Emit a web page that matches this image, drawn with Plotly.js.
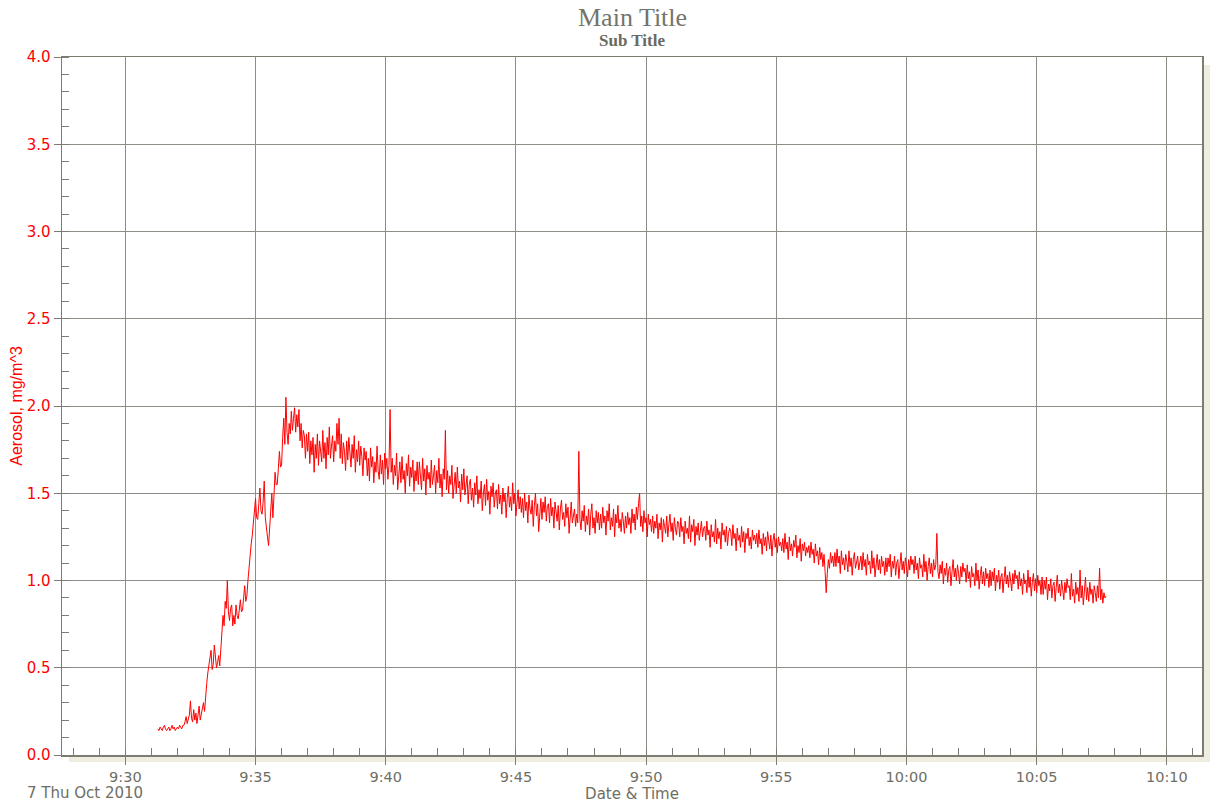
<!DOCTYPE html>
<html>
<head>
<meta charset="utf-8">
<script src="https://cdn.plot.ly/plotly-3.0.1.min.js"></script>
<style>
html,body{margin:0;padding:0;background:#fff;}
#chart{width:1211px;height:808px;}
</style>
</head>
<body>
<div id="chart"></div>
<script>
// ---- data ----
var startTime = '2010-10-07 09:31:15';
var stepSeconds = 2.5;
// aerosol readings (mg/m^3), one row = one minute of 2.5-second samples
var aerosol = [
  0.15,0.14,0.16,0.15,0.14,0.16,0.17,0.15,0.14,0.15,0.16,0.14,0.15,0.17,0.15,0.16,0.14,0.15,0.16,0.15,0.17,0.16,0.15,0.17,
  0.17,0.19,0.22,0.18,0.20,0.23,0.31,0.21,0.19,0.26,0.20,0.24,0.18,0.22,0.28,0.20,0.23,0.26,0.30,0.25,0.36,0.41,0.47,0.52,
  0.55,0.60,0.49,0.52,0.63,0.55,0.50,0.53,0.57,0.51,0.62,0.69,0.80,0.74,0.88,0.84,1.00,0.82,0.77,0.84,0.86,0.74,0.80,0.75,
  0.86,0.80,0.78,0.83,0.89,0.82,0.83,0.90,0.97,0.88,0.91,1.00,1.08,1.12,1.21,1.26,1.32,1.42,1.47,1.36,1.35,1.44,1.53,1.40,
  1.38,1.45,1.57,1.36,1.28,1.25,1.20,1.30,1.45,1.50,1.36,1.52,1.62,1.55,1.55,1.64,1.74,1.65,1.66,1.82,1.93,1.78,2.05,1.85,
  1.78,1.90,1.84,1.97,1.86,1.93,1.99,1.85,1.95,1.88,1.98,1.80,1.90,1.76,1.86,1.83,1.70,1.84,1.74,1.85,1.67,1.80,1.72,1.82,
  1.62,1.78,1.70,1.84,1.66,1.80,1.74,1.68,1.86,1.70,1.79,1.64,1.82,1.72,1.88,1.70,1.77,1.83,1.68,1.80,1.74,1.90,1.78,1.93,
  1.70,1.84,1.67,1.79,1.74,1.63,1.80,1.69,1.82,1.72,1.65,1.78,1.70,1.83,1.62,1.75,1.68,1.80,1.66,1.77,1.71,1.60,1.76,1.69,
  1.74,1.60,1.70,1.57,1.76,1.65,1.71,1.56,1.68,1.62,1.77,1.63,1.58,1.72,1.61,1.69,1.55,1.73,1.64,1.70,1.58,1.66,1.98,1.62,
  1.70,1.55,1.66,1.60,1.73,1.52,1.64,1.68,1.56,1.71,1.58,1.63,1.50,1.67,1.60,1.72,1.54,1.65,1.59,1.69,1.51,1.63,1.57,1.68,
  1.55,1.68,1.60,1.52,1.70,1.57,1.64,1.49,1.66,1.58,1.62,1.53,1.69,1.55,1.60,1.66,1.50,1.63,1.56,1.70,1.53,1.61,1.48,1.64,
  1.58,1.86,1.52,1.63,1.50,1.60,1.55,1.66,1.47,1.58,1.62,1.50,1.65,1.53,1.57,1.45,1.61,1.52,1.64,1.49,1.56,1.60,1.44,1.55,
  1.58,1.46,1.53,1.42,1.56,1.49,1.60,1.44,1.52,1.47,1.57,1.40,1.50,1.55,1.43,1.58,1.46,1.51,1.38,1.54,1.48,1.56,1.42,1.50,
  1.52,1.41,1.55,1.44,1.49,1.38,1.53,1.45,1.50,1.36,1.47,1.54,1.42,1.48,1.40,1.56,1.44,1.50,1.37,1.46,1.52,1.41,1.48,1.39,
  1.47,1.36,1.50,1.40,1.45,1.33,1.49,1.41,1.38,1.46,1.31,1.43,1.50,1.37,1.44,1.28,1.42,1.47,1.35,1.45,1.39,1.48,1.34,1.43,
  1.44,1.33,1.47,1.37,1.42,1.30,1.45,1.38,1.34,1.43,1.29,1.41,1.46,1.35,1.39,1.31,1.44,1.36,1.42,1.27,1.40,1.45,1.33,1.38,
  1.41,1.31,1.38,1.33,1.74,1.35,1.29,1.40,1.34,1.43,1.28,1.37,1.32,1.41,1.26,1.38,1.44,1.30,1.36,1.27,1.40,1.33,1.39,1.29,
  1.38,1.30,1.42,1.33,1.37,1.26,1.40,1.34,1.44,1.29,1.36,1.31,1.41,1.25,1.38,1.33,1.43,1.30,1.35,1.28,1.39,1.34,1.27,1.37,
  1.30,1.39,1.32,1.36,1.27,1.41,1.33,1.38,1.29,1.42,1.35,1.44,1.50,1.31,1.37,1.28,1.40,1.33,1.36,1.25,1.38,1.32,1.35,1.28,
  1.37,1.27,1.34,1.30,1.38,1.24,1.33,1.29,1.36,1.22,1.35,1.31,1.27,1.37,1.25,1.32,1.38,1.28,1.33,1.23,1.36,1.30,1.26,1.34,
  1.33,1.25,1.36,1.28,1.31,1.21,1.34,1.27,1.30,1.24,1.37,1.22,1.32,1.28,1.35,1.20,1.31,1.26,1.33,1.23,1.29,1.34,1.25,1.30,
  1.31,1.23,1.34,1.26,1.29,1.19,1.32,1.25,1.28,1.22,1.35,1.21,1.30,1.24,1.28,1.18,1.33,1.26,1.29,1.22,1.31,1.20,1.27,1.30,
  1.28,1.20,1.32,1.24,1.27,1.17,1.30,1.23,1.26,1.19,1.31,1.22,1.28,1.16,1.27,1.24,1.30,1.20,1.25,1.18,1.29,1.23,1.26,1.21,
  1.27,1.19,1.29,1.21,1.24,1.15,1.27,1.20,1.25,1.17,1.28,1.22,1.18,1.26,1.14,1.23,1.27,1.19,1.24,1.16,1.25,1.20,1.22,1.17,
  1.24,1.16,1.27,1.18,1.22,1.12,1.25,1.17,1.21,1.14,1.23,1.19,1.26,1.13,1.20,1.16,1.24,1.11,1.21,1.17,1.22,1.14,1.19,1.16,
  1.20,1.13,1.22,1.15,1.18,1.10,1.21,1.14,1.17,1.09,1.19,1.12,1.16,1.08,1.15,1.05,0.93,1.04,1.12,1.07,1.16,1.10,1.14,1.08,
  1.16,1.08,1.18,1.10,1.14,1.04,1.17,1.09,1.13,1.06,1.15,1.11,1.05,1.17,1.08,1.13,1.03,1.12,1.16,1.07,1.11,1.14,1.06,1.12,
  1.14,1.06,1.16,1.08,1.12,1.03,1.15,1.09,1.11,1.04,1.17,1.07,1.13,1.02,1.10,1.15,1.06,1.12,1.04,1.14,1.08,1.11,1.03,1.13,
  1.05,1.13,1.08,1.15,1.02,1.11,1.07,1.14,1.03,1.10,1.12,1.01,1.09,1.16,1.06,1.11,1.04,1.13,1.08,1.02,1.12,1.06,1.14,1.09,
  1.12,1.04,1.14,1.06,1.10,1.01,1.13,1.07,1.09,1.02,1.15,1.05,1.11,1.00,1.08,1.13,1.04,1.10,1.02,1.12,1.06,1.09,1.27,1.05,
  1.01,1.09,1.04,1.11,0.98,1.07,1.03,1.10,0.99,1.06,1.08,0.97,1.05,1.12,1.02,1.07,1.00,1.09,1.04,0.98,1.08,1.02,1.10,1.05,
  1.07,0.99,1.09,1.01,1.05,0.96,1.08,1.02,1.04,0.97,1.10,1.00,1.06,0.95,1.03,1.08,0.98,1.05,0.97,1.07,1.01,1.04,0.96,1.06,
  0.97,1.05,1.00,1.07,0.94,1.03,0.99,1.06,0.95,1.02,1.04,0.93,1.01,1.08,0.98,1.03,0.96,1.05,1.00,0.94,1.04,0.98,1.06,1.01,
  1.03,0.95,1.05,0.97,1.01,0.92,1.04,0.98,1.00,0.93,1.06,0.96,1.02,0.91,0.99,1.04,0.94,1.01,0.93,1.03,0.97,1.00,0.92,1.02,
  0.92,1.00,0.95,1.02,0.89,0.98,0.94,1.01,0.90,0.97,0.99,0.88,0.96,1.03,0.93,0.98,0.91,1.00,0.95,0.89,0.99,0.93,1.01,0.96,
  0.97,0.89,1.04,0.91,0.95,0.87,0.99,0.92,0.96,0.88,1.06,0.90,0.97,0.86,0.94,1.02,0.89,0.96,0.88,0.99,0.92,0.95,0.87,0.97,
  0.93,0.88,0.97,0.90,1.07,0.89,0.95,0.87,0.93,0.90,0.91
];
var xRange = ['2010-10-07 09:27:34', '2010-10-07 10:11:21'];
var yRange = [0, 4];
var mainTitle = 'Main Title';
var subTitle = 'Sub Title';
var xTitle = 'Date & Time';
var yTitle = 'Aerosol, mg/m^3';
var dateLabel = '7 Thu Oct 2010';

// sample timestamps
function pad(n){return (n<10?'0':'')+n;}
var p = startTime.split(/[- :]/).map(Number);
var t0 = Date.UTC(p[0], p[1]-1, p[2], p[3], p[4], p[5]);
var times = aerosol.map(function(_, i){
  var d = new Date(t0 + i*stepSeconds*1000);
  var ms = d.getUTCMilliseconds();
  return d.getUTCFullYear()+'-'+pad(d.getUTCMonth()+1)+'-'+pad(d.getUTCDate())+' '+
         pad(d.getUTCHours())+':'+pad(d.getUTCMinutes())+':'+pad(d.getUTCSeconds())+(ms?'.'+String(ms).padStart(3,'0'):'');
});

var axisGray = '#7c7c72';
var gridGray = '#8e8e86';
var textGray = '#6e6e64';
var shadow = '#efede0';

var trace = {
  x: times, y: aerosol, type: 'scatter', mode: 'lines',
  line: {color: '#ff0000', width: 1},
  hoverinfo: 'skip'
};

var layout = {
  width: 1211, height: 808,
  margin: {l: 62, r: 9, t: 57, b: 53},
  paper_bgcolor: '#ffffff', plot_bgcolor: '#ffffff',
  showlegend: false,
  xaxis: {
    type: 'date', range: xRange,
    tick0: '2010-10-07 09:30:00', dtick: 300000, tickformat: '%-H:%M',
    ticks: 'outside', ticklen: 8, tickcolor: axisGray, tickwidth: 1,
    showgrid: true, gridcolor: gridGray, gridwidth: 1,
    showline: true, linecolor: axisGray, linewidth: 1.5, mirror: true,
    zeroline: false,
    minor: {dtick: 60000, tick0: '2010-10-07 09:30:00', ticks: 'inside', ticklen: 7, tickcolor: axisGray, tickwidth: 1, showgrid: false},
    tickfont: {family: 'DejaVu Sans', size: 14.5, color: textGray},
    title: {text: xTitle, font: {family: 'DejaVu Sans', size: 15, color: textGray}, standoff: 4}
  },
  yaxis: {
    range: yRange, dtick: 0.5, tick0: 0, tickformat: '.1f',
    ticks: 'outside', ticklen: 7, tickcolor: axisGray, tickwidth: 1,
    showgrid: true, gridcolor: gridGray, gridwidth: 1,
    showline: true, linecolor: axisGray, linewidth: 1.5, mirror: true,
    zeroline: false,
    minor: {dtick: 0.1, ticks: 'inside', ticklen: 7, tickcolor: axisGray, tickwidth: 1, showgrid: false},
    tickfont: {family: 'DejaVu Sans', size: 15, color: '#ff0000'},
    title: {text: yTitle, font: {family: 'Liberation Sans', size: 16, color: '#ff0000'}, standoff: 0}
  },
  shapes: [
    {type: 'rect', xref: 'paper', yref: 'paper', x0: 1.0009, x1: 1.007, y0: -0.010, y1: 0.9885,
     fillcolor: shadow, line: {width: 0}, layer: 'below'},
    {type: 'rect', xref: 'paper', yref: 'paper', x0: 0.006, x1: 1.007, y0: -0.010, y1: 0,
     fillcolor: shadow, line: {width: 0}, layer: 'below'}
  ],
  annotations: [
    {text: mainTitle, xref: 'paper', yref: 'paper', x: 0.5, y: 1.056, xanchor: 'center', yanchor: 'middle',
     showarrow: false, font: {family: 'Liberation Serif', size: 26, color: '#74746a'}},
    {text: '<b>' + subTitle + '</b>', xref: 'paper', yref: 'paper', x: 0.5, y: 1.0235, xanchor: 'center', yanchor: 'middle',
     showarrow: false, font: {family: 'Liberation Serif', size: 17, color: '#6a6a60'}},
    {text: dateLabel, xref: 'paper', yref: 'paper', x: -0.0325, y: -0.0544, xanchor: 'left', yanchor: 'middle',
     showarrow: false, font: {family: 'DejaVu Sans', size: 15, color: textGray}}
  ]
};

Plotly.newPlot('chart', [trace], layout, {displayModeBar: false, staticPlot: true});
</script>
</body>
</html>
